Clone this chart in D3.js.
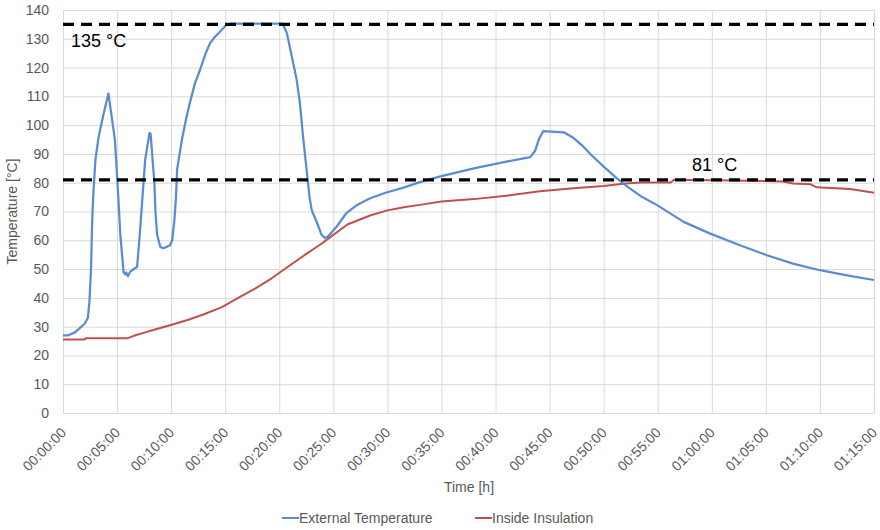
<!DOCTYPE html>
<html>
<head>
<meta charset="utf-8">
<script src="https://cdn.jsdelivr.net/npm/d3@7"></script>
<style>
  html, body { margin: 0; padding: 0; background: #ffffff; }
  svg { display: block; font-family: "Liberation Sans", Arial, sans-serif; }
</style>
</head>
<body>
<svg id="chart" width="880" height="530"></svg>
<script>
// ---- data (time in minutes, temperature in °C) ----
const externalTime = [0,0.5,1.1,1.7,2.0,2.3,2.45,2.6,2.7,2.8,3.0,3.3,3.7,4.2,4.8,5.1,5.3,5.6,5.75,5.85,6.0,6.2,6.6,6.85,7.1,7.35,7.6,8.0,8.1,8.45,8.55,8.7,9.0,9.3,9.9,10.1,10.3,10.45,10.55,11.0,11.4,11.75,12.2,12.7,13.2,13.6,14.0,14.4,15.1,15.5,20.3,20.7,21.15,21.6,21.9,22.2,22.5,22.8,23.0,23.5,23.9,24.2,24.5,25.3,26.2,27.2,28.4,29.9,31.5,33.0,34.9,38.0,41.0,43.2,43.65,44.0,44.4,46.3,47.2,48.1,49.0,50.0,51.2,52.1,53.4,54.9,57.4,59.8,62.6,65.1,67.5,70.0,72.5,75];
const externalTemp = [27,27,28,30,31,33,39,51,67,76,88,96,103,111,95,76,62,49,48.2,48.8,47.5,49,50.2,50.7,62,75,88,97.3,97,80,70,62,57.7,57.2,58.3,60,67,75,84.5,95,102.5,108,114.5,119.5,125,128.5,130.5,132,134.8,135.3,135.3,132,124,116,108,96,85.5,75,70.5,66,62,60.8,61.3,64.7,69.4,72.3,74.6,76.6,78.3,80.2,82.2,85,87.3,88.9,91,95,97.9,97.5,95.6,92.6,89.1,85.6,81.6,78.9,75.4,72.3,66.4,62.4,58.3,54.8,51.9,49.6,47.8,46.2];

const insideTime = [0,2,2.1,6.0,6.7,7.6,8.5,9.9,11.6,13.1,14.7,16.2,17.8,19.3,20.8,22.4,23.9,24.5,26.3,28.4,29.9,31.5,33.0,35.0,38.0,41.0,44.1,47.2,50.0,51.8,53.4,56.2,56.5,62,66.6,67.5,69.1,69.7,72.8,75];
const insideTemp = [25.5,25.5,26,26,27,28,29,30.5,32.4,34.4,36.8,40,43.3,46.8,50.8,55,58.8,60.5,65.5,68.6,70.3,71.5,72.3,73.5,74.3,75.5,77,78.1,78.9,79.6,80.1,80.1,81,80.8,80.4,79.7,79.5,78.4,77.8,76.5];

const yTicks = [0,10,20,30,40,50,60,70,80,90,100,110,120,130,140];
const xTicks = [0,5,10,15,20,25,30,35,40,45,50,55,60,65,70,75];
const limitValues = [135, 81];
const limitLabels = ["135 °C", "81 °C"];
const seriesNames = ["External Temperature", "Inside Insulation"];
const seriesColors = ["#5b8bd0", "#c0504d"];

// ---- layout ----
const svg = d3.select("#chart");
const plotLeft = 63, plotRight = 874, plotTop = 10, plotBottom = 413;

const x = d3.scaleLinear().domain([0, 75]).range([plotLeft, plotRight]);
const y = d3.scaleLinear().domain([0, 140]).range([plotBottom, plotTop]);

const fmt = m => {
  const h = Math.floor(m / 60), mm = m % 60;
  return String(h).padStart(2, "0") + ":" + String(mm).padStart(2, "0") + ":00";
};

svg.append("rect").attr("width", 880).attr("height", 530).attr("fill", "#fff");

// gridlines
svg.append("g").selectAll("line").data(yTicks).join("line")
  .attr("x1", plotLeft).attr("x2", plotRight)
  .attr("y1", d => y(d) + 0.5).attr("y2", d => y(d) + 0.5)
  .attr("stroke", "#d9d9d9").attr("stroke-width", 1);
svg.append("g").selectAll("line").data(xTicks).join("line")
  .attr("x1", d => x(d) + 0.5).attr("x2", d => x(d) + 0.5)
  .attr("y1", plotTop).attr("y2", plotBottom)
  .attr("stroke", "#d9d9d9").attr("stroke-width", 1);

// y axis labels
const yAxis = d3.axisLeft(y).tickValues(yTicks).tickSize(0).tickPadding(14);
const gy = svg.append("g").attr("transform", `translate(${plotLeft},0)`).call(yAxis);
gy.select(".domain").remove();
gy.selectAll("text").attr("fill", "#595959").attr("font-size", 14)
  .attr("font-family", "Liberation Sans, Arial, sans-serif");

// x axis labels (rotated)
const xAxis = d3.axisBottom(x).tickValues(xTicks).tickFormat(fmt).tickSize(0);
const gx = svg.append("g").attr("transform", `translate(0,${plotBottom})`).call(xAxis);
gx.select(".domain").attr("stroke", "#d9d9d9");
gx.selectAll("text")
  .attr("fill", "#595959").attr("font-size", 14)
  .attr("font-family", "Liberation Sans, Arial, sans-serif")
  .attr("text-anchor", "end")
  .attr("dy", "0.35em")
  .attr("transform", "translate(0,17) rotate(-45)")
  .attr("y", 0).attr("x", 0);

// axis titles
svg.append("text").attr("x", 469).attr("y", 492).attr("text-anchor", "middle")
  .attr("fill", "#595959").attr("font-size", 14).text("Time [h]");
svg.append("text").attr("transform", `translate(17,${(plotTop + plotBottom) / 2}) rotate(-90)`)
  .attr("text-anchor", "middle").attr("fill", "#595959").attr("font-size", 14)
  .text("Temperature [°C]");

// series
const line = d3.line().x(d => x(d[0])).y(d => y(d[1]));
const extData = externalTime.map((t, i) => [t, externalTemp[i]]);
const insData = insideTime.map((t, i) => [t, insideTemp[i]]);

svg.append("path").datum(insData).attr("d", line)
  .attr("fill", "none").attr("stroke", seriesColors[1]).attr("stroke-width", 2)
  .attr("stroke-linejoin", "round");
svg.append("path").datum(extData).attr("d", line)
  .attr("fill", "none").attr("stroke", seriesColors[0]).attr("stroke-width", 2.25)
  .attr("stroke-linejoin", "round");

// limit lines
svg.append("g").selectAll("line").data(limitValues).join("line")
  .attr("x1", plotLeft).attr("x2", plotRight)
  .attr("y1", d => y(d)).attr("y2", d => y(d))
  .attr("stroke", "#000").attr("stroke-width", 3.2)
  .attr("stroke-dasharray", "11,7");

svg.append("text").attr("x", 71).attr("y", y(limitValues[0]) + 23)
  .attr("font-size", 18).attr("fill", "#000").text(limitLabels[0]);
svg.append("text").attr("x", 692).attr("y", y(limitValues[1]) - 9)
  .attr("font-size", 18).attr("fill", "#000").text(limitLabels[1]);

// legend
const legendX = [282, 475];
const lg = svg.append("g").selectAll("g").data(seriesNames).join("g")
  .attr("transform", (d, i) => `translate(${legendX[i]},518)`);
lg.append("line").attr("x1", 0).attr("x2", 17).attr("y1", 0).attr("y2", 0)
  .attr("stroke", (d, i) => seriesColors[i]).attr("stroke-width", 2);
lg.append("text").attr("x", 17).attr("y", 5).attr("font-size", 14)
  .attr("fill", "#595959").text(d => d);
</script>
</body>
</html>
